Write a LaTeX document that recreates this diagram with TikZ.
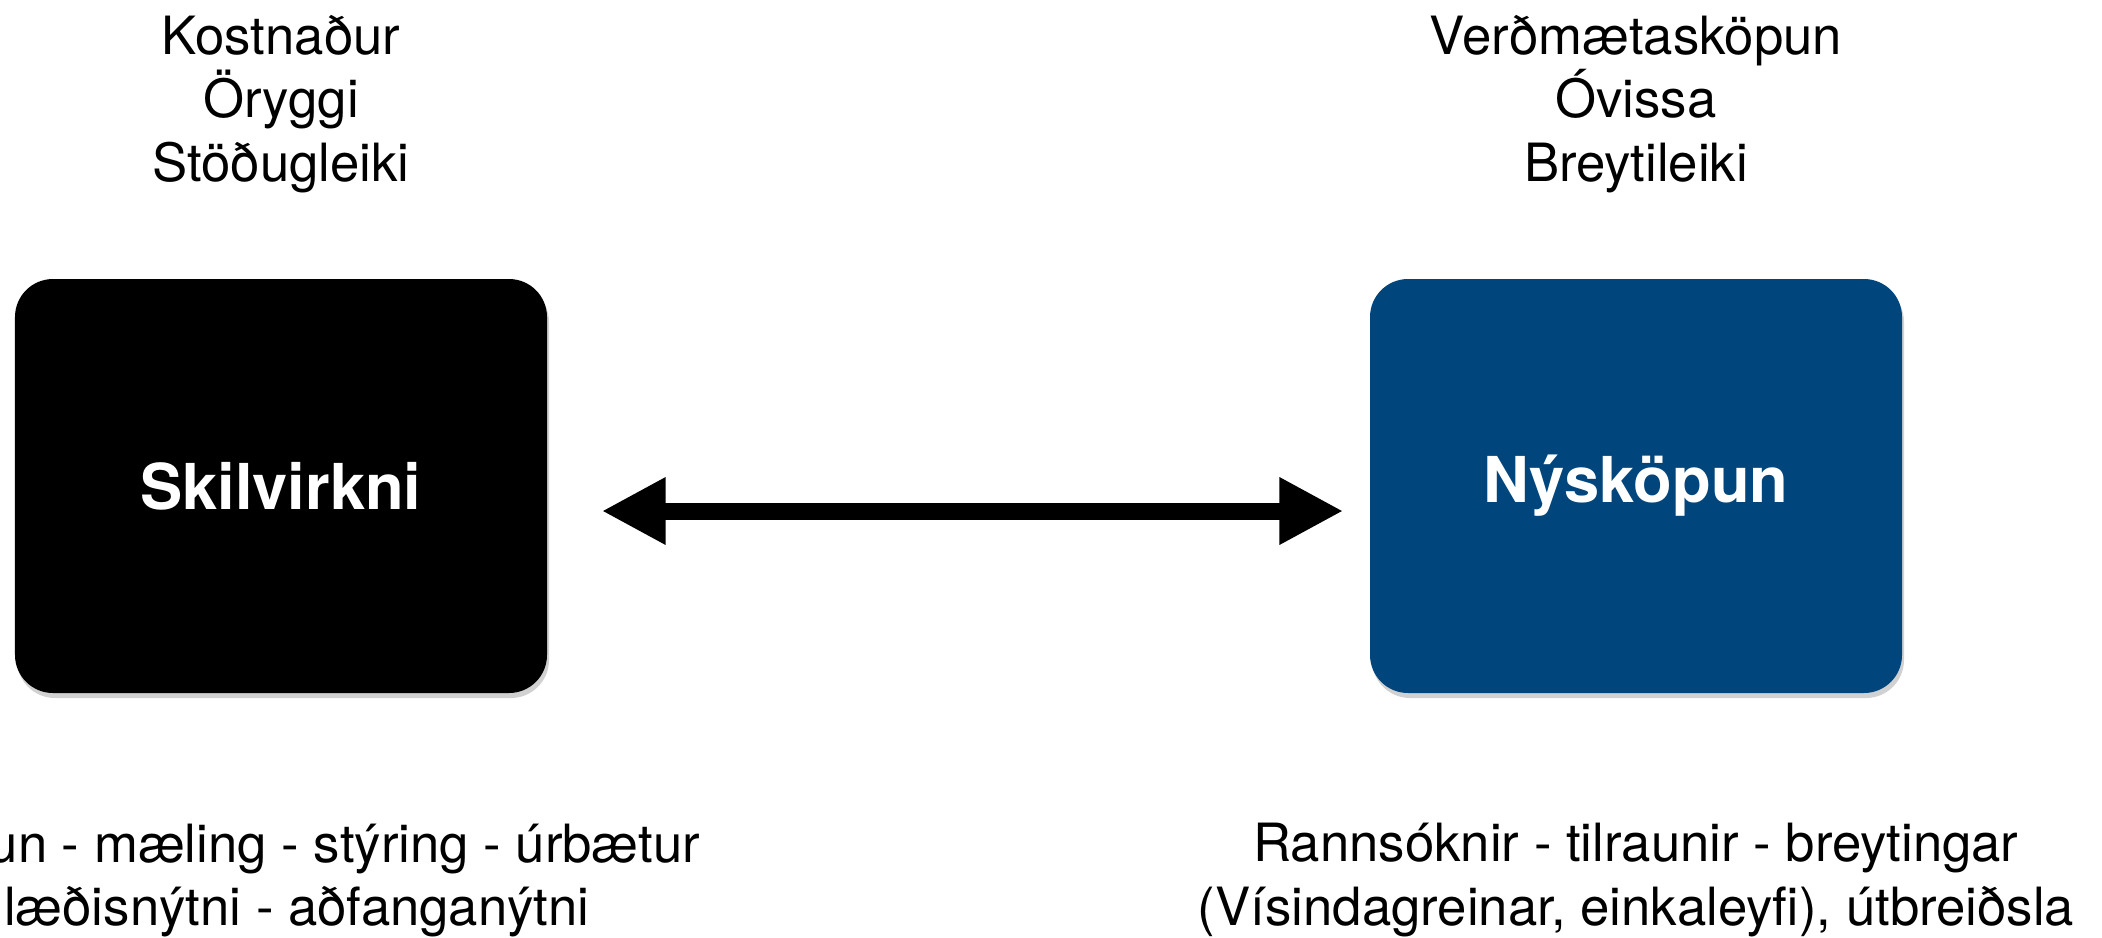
\documentclass[tikz,border=0pt]{standalone}
\usepackage{fontspec}
\setmainfont{TeX Gyre Heros}
\usepackage{tikz}
\usetikzlibrary{positioning,shadows,arrows.meta}
\definecolor{nyblue}{RGB}{0,69,124}

\begin{document}
\begin{tikzpicture}[node distance=1cm]
                \tikzstyle{keybox} = [rectangle, rounded corners=0.38cm, minimum width=5.32cm, minimum height=4.14cm, text=white, font=\fontsize{18}{22}\selectfont\bfseries, drop shadow={shadow xshift=0.02cm, shadow yshift=-0.05cm, fill=black, opacity=0.18}]
                \tikzstyle{notes} = [align=center, inner sep=0pt, font=\fontsize{15}{18}\selectfont]
                \tikzstyle{biarrow} = [line width=0.17cm, {Triangle[length=0.64cm,width=0.63cm]}-{Triangle[length=0.64cm,width=0.63cm]}]

                \useasboundingbox (0,0) rectangle (21.02,9.37);
                \node (skil) [keybox, fill=black] at (2.81,4.51) {Skilvirkni};
                \node (nysk) [keybox, fill=nyblue, right of=skil, node distance=13.55cm] {Nýsköpun};
                \node (skiltop) [notes, above=0.85cm of skil] {Kostnaður\\Öryggi\\Stöðugleiki};
                \node (nysktop) [notes, above=0.85cm of nysk] {Verðmætasköpun\\Óvissa\\Breytileiki};
                \node (nyskbot) [notes, below=1.29cm of nysk] {Rannsóknir - tilraunir - breytingar\\(Vísindagreinar, einkaleyfi), útbreiðsla};
                \node (skilbot1) [notes, anchor=base east] at (7.01,0.75) {un - mæling - stýring - úrbætur};
                \node (skilbot2) [notes, anchor=base east] at (5.90,0.12) {læðisnýtni - aðfanganýtni};

                \draw [biarrow] ([shift={(0.54cm,-0.25cm)}]skil.east) -- ([shift={(-0.26cm,-0.25cm)}]nysk.west);
            \end{tikzpicture}
\end{document}
